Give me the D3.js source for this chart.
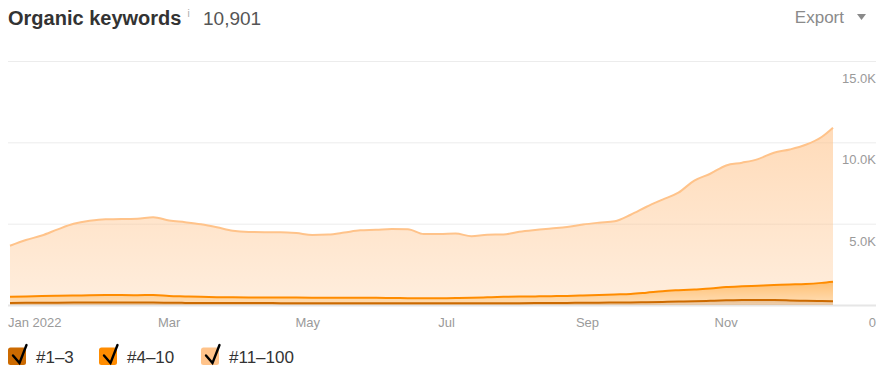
<!DOCTYPE html>
<html><head><meta charset="utf-8">
<script src="https://cdn.jsdelivr.net/npm/d3@7"></script>
<style>
html,body{margin:0;padding:0;background:#fff;}
svg{display:block;font-family:"Liberation Sans",Arial,sans-serif;}
</style></head>
<body><svg id="c" width="894" height="386"></svg>
<script>
const dates = ["2021-12-21","2021-12-28","2022-01-04","2022-01-11","2022-01-18","2022-01-25","2022-02-01","2022-02-08","2022-02-15","2022-02-22","2022-03-01","2022-03-08","2022-03-15","2022-03-22","2022-03-29","2022-04-05","2022-04-12","2022-04-19","2022-04-26","2022-05-03","2022-05-10","2022-05-17","2022-05-24","2022-05-31","2022-06-07","2022-06-14","2022-06-21","2022-06-28","2022-07-05","2022-07-12","2022-07-19","2022-07-26","2022-08-02","2022-08-09","2022-08-16","2022-08-23","2022-08-30","2022-09-06","2022-09-13","2022-09-20","2022-09-27","2022-10-04","2022-10-11","2022-10-18","2022-10-25","2022-11-01","2022-11-08","2022-11-15","2022-11-22","2022-11-29","2022-12-06","2022-12-13","2022-12-18"];
const top3 = [130,135,140,145,150,155,155,150,150,150,140,130,125,120,120,120,120,115,115,115,115,115,115,115,110,110,110,110,110,110,110,110,115,120,125,130,135,140,150,160,175,190,210,230,260,290,310,310,300,280,260,245,235];
const top10 = [380,395,410,425,430,445,455,460,455,460,420,400,375,360,350,345,340,345,340,335,335,330,325,325,320,310,300,305,315,330,360,390,405,410,420,430,455,480,500,520,585,660,700,730,750,810,840,880,930,980,1030,1115,1195];
const top100 = [3135,3470,3720,4080,4410,4580,4665,4670,4695,4790,4640,4560,4460,4300,4100,4030,4020,4020,3965,3850,3880,4005,4150,4180,4240,4240,3950,3945,3970,3790,3855,3835,3980,4080,4155,4230,4360,4440,4500,4870,5280,5630,5995,6690,7060,7480,7600,7780,8130,8300,8560,8970,9471];
const seriesNames = ["#1–3","#4–10","#11–100"];
const seriesColors = ["#cc6a00","#ff8c00","#ffc38a"];
const yTicks = [0,5000,10000,15000];
const yTickLabels = ["0","5.0K","10.0K","15.0K"];
const xTickDates = ["2022-01-01","2022-03-01","2022-05-01","2022-07-01","2022-09-01","2022-11-01"];
const xTickLabels = ["Jan 2022","Mar","May","Jul","Sep","Nov"];
const titleText = "Organic keywords";
const totalText = "10,901";

const parse = d3.timeParse("%Y-%m-%d");
const rows = dates.map((d,i)=>({date:parse(d), s0:top3[i], s1:top10[i], s2:top100[i]}));
const stack = d3.stack().keys(["s0","s1","s2"])(rows);

const svg = d3.select("#c");
const x = d3.scaleTime().domain([parse(dates[0]), parse(dates[dates.length-1])]).range([10,833]);
const y = d3.scaleLinear().domain([0,15000]).range([305,61]);

const defs = svg.append("defs");
const opac = [[0.45,0.3],[0.55,0.3],[0.6,0.3]];
seriesColors.forEach((c,i)=>{
  const g = defs.append("linearGradient").attr("id","g"+i).attr("x1",0).attr("x2",0).attr("y1",0).attr("y2",1);
  g.append("stop").attr("offset","0%").attr("stop-color",c).attr("stop-opacity", opac[i][0]);
  g.append("stop").attr("offset","100%").attr("stop-color",c).attr("stop-opacity", opac[i][1]);
});

svg.append("g").selectAll("line").data(yTicks).join("line")
  .attr("x1",8).attr("x2",876).attr("y1",d=>y(d)+0.5).attr("y2",d=>y(d)+0.5)
  .attr("stroke",d=>d===0?"#e6e6e6":"#ececec").attr("stroke-width",d=>d===0?2:1);

const area = d3.area().x(d=>x(d.data.date)).y0(d=>y(d[0])).y1(d=>y(d[1])).curve(d3.curveMonotoneX);
const line = d3.line().x(d=>x(d.data.date)).y(d=>y(d[1])).curve(d3.curveMonotoneX);

svg.append("g").selectAll("path").data(stack).join("path")
  .attr("d",area).attr("fill",(d,i)=>`url(#g${i})`);
svg.append("g").selectAll("path").data(stack.slice().reverse()).join("path")
  .attr("d",line).attr("fill","none")
  .attr("stroke",d=>seriesColors[d.index]).attr("stroke-width",2).attr("stroke-linejoin","round");

svg.append("g").selectAll("text").data(yTicks).join("text")
  .attr("x",876).attr("y",d=>y(d)+22).attr("text-anchor","end")
  .attr("font-size",13).attr("fill","#9a9a9a").text((d,i)=>yTickLabels[i]);

svg.append("g").selectAll("text").data(xTickDates).join("text")
  .attr("x",(d,i)=>i===0?8:x(parse(d))).attr("y",327)
  .attr("text-anchor",(d,i)=>i===0?"start":"middle")
  .attr("font-size",13).attr("fill","#9a9a9a").text((d,i)=>xTickLabels[i]);

const t = svg.append("text").attr("x",8).attr("y",25).attr("font-size",20).attr("font-weight","bold").attr("fill","#333").text(titleText);
const tw = t.node().getComputedTextLength();
svg.append("text").attr("x",8+tw+6).attr("y",17).attr("font-size",10).attr("fill","#aaa").text("i");
svg.append("text").attr("x",203).attr("y",25).attr("font-size",19).attr("fill","#555").text(totalText);

svg.append("text").attr("x",844).attr("y",23).attr("text-anchor","end").attr("font-size",17).attr("fill","#8a8a8a").text("Export");
svg.append("path").attr("d","M857,14 L866,14 L861.5,20 Z").attr("fill","#8a8a8a");

const legX = [8,99,201];
const lg = svg.append("g").selectAll("g").data(seriesNames).join("g").attr("transform",(d,i)=>`translate(${legX[i]},347.5)`);
lg.append("rect").attr("width",18).attr("height",17.5).attr("rx",2.5).attr("fill",(d,i)=>seriesColors[i]);
lg.append("path").attr("d","M5,8 L11.5,15.5 L18.5,-2.5").attr("fill","none").attr("stroke","#000").attr("stroke-width",2.4).attr("stroke-linecap","round").attr("stroke-linejoin","miter");
lg.append("text").attr("x",28).attr("y",15).attr("font-size",17).attr("fill","#333").text(d=>d);
</script></body></html>
